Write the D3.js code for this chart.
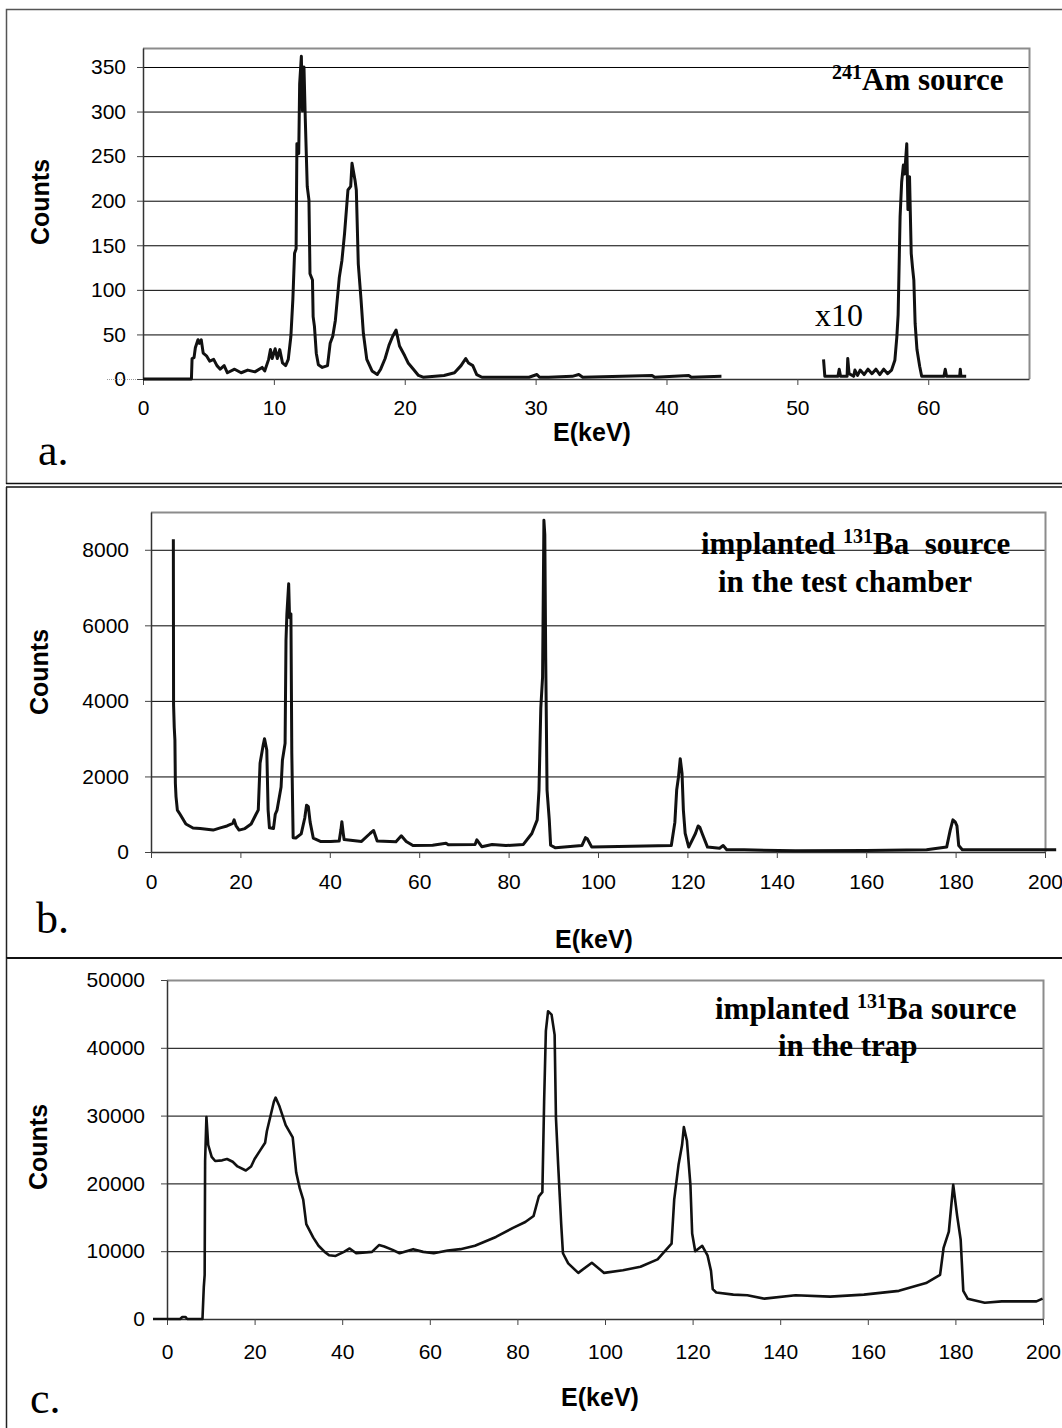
<!DOCTYPE html>
<html>
<head>
<meta charset="utf-8">
<script src="https://cdn.jsdelivr.net/npm/d3@7"></script>
<style>
body { margin: 0; background: #fff; }
svg text { font-family: "Liberation Sans", Arial, sans-serif; fill: #000; }
</style>
</head>
<body>
<svg id="chart" width="1062" height="1428"></svg>
<script>
// a. 241Am spectrum, low energy part (keV, counts)
var amE = [0, 3.7, 3.75, 3.9, 4.0, 4.2, 4.3, 4.45, 4.6, 4.85, 5.1, 5.4, 5.65, 5.9, 6.2, 6.45, 7.0, 7.5, 8.0, 8.55, 9.1, 9.3, 9.6, 9.74, 9.87, 10.1, 10.26, 10.45, 10.66, 10.9, 11.1, 11.3, 11.45, 11.58, 11.7, 11.76, 11.9, 11.97, 12.1, 12.18, 12.3, 12.4, 12.55, 12.68, 12.76, 12.95, 13.0, 13.1, 13.24, 13.4, 13.7, 14.1, 14.3, 14.5, 14.7, 15.0, 15.2, 15.4, 15.66, 15.87, 15.97, 16.2, 16.3, 16.45, 16.66, 16.84, 17.1, 17.5, 17.9, 18.16, 18.5, 18.8, 19.08, 19.34, 19.6, 20.0, 20.26, 20.66, 21.05, 21.4, 23.0, 23.8, 24.3, 24.66, 24.87, 25.2, 25.5, 25.9, 29.5, 30.1, 30.3, 31.0, 32.8, 33.3, 33.6, 38.9, 39.1, 41.7, 41.9, 44.2];
var amCounts = [0, 0, 23, 24, 35, 44, 40, 44, 29, 26, 20, 22, 15, 11, 15, 7, 11, 7, 10, 8, 13, 9, 22, 33, 23, 34, 23, 33, 18, 15, 22, 48, 89, 141, 146, 264, 253, 331, 362, 301, 350, 292, 216, 201, 118, 111, 70, 59, 29, 16, 13, 15, 40, 48, 66, 114, 133, 163, 212, 216, 242, 223, 212, 129, 89, 51, 22, 9, 5, 11, 23, 38, 48, 55, 37, 26, 18, 11, 4, 2, 4, 7, 15, 23, 18, 15, 5, 2, 2, 5, 2, 2, 3, 5, 2, 4, 2, 4, 2, 3];
// a. 241Am spectrum, 52-63 keV part shown x10
var amE10 = [52.0, 52.1, 53.1, 53.2, 53.3, 53.8, 53.85, 53.95, 54.3, 54.4, 54.6, 54.8, 55.1, 55.4, 55.7, 56.0, 56.3, 56.6, 56.9, 57.2, 57.45, 57.6, 57.7, 57.85, 57.97, 58.1, 58.2, 58.36, 58.45, 58.57, 58.7, 58.8, 58.9, 59.0, 59.14, 59.35, 59.5, 61.2, 61.3, 61.4, 62.4, 62.45, 62.5, 62.9];
var amCounts10 = [22, 3, 3, 11, 3, 3, 23, 6, 3, 10, 4, 10, 5, 11, 6, 11, 5, 11, 6, 10, 21, 47, 72, 182, 221, 240, 230, 264, 190, 227, 141, 125, 111, 62, 33, 14, 3, 3, 11, 3, 3, 11, 3, 3];
var amXTicks = [0, 10, 20, 30, 40, 50, 60];
var amYTicks = [0, 50, 100, 150, 200, 250, 300, 350];

// b. implanted 131Ba source in the test chamber
var testE = [5.0, 5.05, 5.2, 5.35, 5.45, 5.6, 5.9, 6.5, 7.8, 9.4, 11, 13.9, 15.5, 17, 18.3, 18.6, 19.0, 19.7, 21, 22.4, 23.5, 24.0, 24.4, 25.1, 25.4, 25.9, 26.2, 26.5, 27.4, 27.8, 28.2, 29.1, 29.4, 30.0, 30.2, 30.4, 30.8, 31.0, 31.3, 31.5, 31.8, 32.4, 33.6, 34.4, 34.8, 35.2, 35.6, 36.3, 37.9, 40.2, 42.1, 42.5, 42.7, 43.0, 43.2, 47.1, 49.0, 49.8, 50.6, 54.8, 56.0, 57.1, 58.6, 63, 66.0, 66.5, 72.5, 72.9, 74.0, 76.3, 79.4, 83.3, 85.2, 86.4, 86.8, 87.2, 87.6, 87.9, 88.1, 88.3, 88.6, 89.1, 89.4, 90.5, 96.4, 97.2, 97.6, 98.6, 116.4, 117.2, 117.6, 118.0, 118.4, 118.8, 119.1, 119.5, 120.3, 121.8, 122.4, 122.8, 123.3, 124.5, 127.2, 128.0, 128.8, 132.7, 144.2, 160, 173.5, 178.0, 178.8, 179.4, 179.9, 180.3, 180.7, 181.5, 202.5];
var testCounts = [8280, 3900, 3300, 2960, 1820, 1460, 1110, 1000, 740, 635, 620, 580, 640, 690, 760, 850, 700, 580, 620, 740, 1000, 1110, 2350, 2830, 3000, 2700, 1110, 640, 620, 1000, 1110, 1720, 2430, 2880, 5600, 6300, 7100, 6200, 6300, 2620, 380, 370, 480, 900, 1240, 1200, 790, 370, 280, 280, 290, 600, 800, 500, 330, 280, 490, 570, 290, 270, 430, 280, 170, 180, 230, 190, 200, 320, 140, 200, 170, 200, 490, 850, 1640, 3800, 4630, 8780, 8400, 5160, 1640, 850, 180, 110, 170, 380, 350, 130, 170, 790, 1640, 1980, 2470, 2080, 1110, 490, 130, 490, 690, 650, 490, 130, 100, 170, 60, 60, 30, 40, 60, 130, 580, 850, 800, 690, 170, 60, 60];
var testXTicks = [0, 20, 40, 60, 80, 100, 120, 140, 160, 180, 200];
var testYTicks = [0, 2000, 4000, 6000, 8000];

// c. implanted 131Ba source in the trap
var trapE = [-3.2, 3.0, 3.5, 4.2, 4.6, 8.1, 8.4, 8.6, 8.7, 9.0, 9.4, 10.2, 11.0, 12.6, 13.7, 15.0, 16.1, 18.0, 19.2, 20.0, 21.2, 22.4, 22.8, 24.4, 24.8, 25.6, 27.1, 28.7, 29.5, 30.3, 31.1, 31.8, 33.4, 34.6, 36.0, 37.0, 38.5, 40.4, 41.7, 43.2, 46.8, 48.4, 49.6, 51.5, 53.1, 56.2, 58.5, 60.9, 64.1, 67.0, 70.3, 75.1, 79.0, 81.8, 83.7, 84.9, 85.7, 86.1, 86.5, 87.0, 87.8, 88.5, 88.8, 89.3, 90.0, 90.4, 91.6, 93.9, 97.0, 99.8, 104.1, 108.1, 112.0, 115.2, 115.8, 116.8, 117.6, 118.0, 118.7, 119.5, 119.9, 120.6, 122.2, 123.4, 124.2, 124.6, 125.4, 129.3, 132.5, 136.4, 143.5, 151.4, 159.1, 167.1, 173.3, 176.5, 177.3, 178.5, 179.5, 180.4, 181.2, 181.8, 182.8, 186.7, 190.6, 198.5, 199.9];
var trapCounts = [0, 0, 300, 300, 0, 0, 4700, 6500, 23300, 29800, 25700, 23900, 23300, 23400, 23600, 23200, 22500, 21900, 22500, 23600, 24800, 26000, 27700, 32050, 32650, 31500, 28600, 26800, 21600, 19300, 17600, 14000, 12000, 10800, 9900, 9400, 9300, 9900, 10400, 9700, 9900, 10900, 10700, 10200, 9700, 10300, 9900, 9700, 10100, 10300, 10800, 12100, 13450, 14300, 15200, 18100, 18700, 32000, 42500, 45400, 44900, 41900, 29700, 22800, 14000, 9700, 8200, 6800, 8300, 6800, 7200, 7700, 8800, 11100, 17600, 22800, 25700, 28300, 26300, 19800, 12600, 10000, 10800, 9400, 7100, 4400, 3900, 3600, 3500, 3000, 3500, 3300, 3600, 4150, 5300, 6500, 10500, 12900, 19800, 15200, 11700, 4150, 3000, 2400, 2600, 2600, 3000];
var trapXTicks = [0, 20, 40, 60, 80, 100, 120, 140, 160, 180, 200];
var trapYTicks = [0, 10000, 20000, 30000, 40000, 50000];

var svg = d3.select("#chart");

// frames round the three panels
function drawFrames() {
  var f = svg.append("g").attr("fill", "none");
  f.append("path").attr("d", "M6.5,484V9.5H1062").attr("stroke", "#555").attr("stroke-width", 1.5);
  f.append("path").attr("d", "M6,483.5H1062M6,487H1062").attr("stroke", "#111").attr("stroke-width", 1.5);
  f.append("path").attr("d", "M6.5,487V958").attr("stroke", "#222").attr("stroke-width", 1.5);
  f.append("path").attr("d", "M6,958H1062").attr("stroke", "#111").attr("stroke-width", 2);
  f.append("path").attr("d", "M6.5,958V1428").attr("stroke", "#222").attr("stroke-width", 1.5);
}

function makePanel(p) {
  var x = d3.scaleLinear().domain([0, p.xMax]).range([p.left, p.right]);
  var y = d3.scaleLinear().domain([0, p.yMax]).range([p.bottom, p.top]);
  var g = svg.append("g");

  // gridlines
  g.append("g")
    .attr("transform", `translate(${p.left},0)`)
    .call(d3.axisLeft(y).tickValues(p.yTicks.filter(d => d > 0)).tickSize(-(p.right - p.left)).tickFormat(""))
    .call(a => a.select(".domain").remove())
    .selectAll("line").attr("stroke", "#000").attr("stroke-width", 1);

  // plot area border (top and right)
  g.append("path")
    .attr("d", `M${p.left},${p.top + 0.5}H${p.right + 0.5}V${p.bottom}`)
    .attr("fill", "none").attr("stroke", "#8c8c8c").attr("stroke-width", 2);

  var yAxis = g.append("g")
    .attr("transform", `translate(${p.left},0)`)
    .call(d3.axisLeft(y).tickValues(p.yTicks).tickSize(6).tickSizeOuter(0).tickPadding(p.yPad).tickFormat(d3.format("d")));
  var xAxis = g.append("g")
    .attr("transform", `translate(0,${p.bottom})`)
    .call(d3.axisBottom(x).tickValues(p.xTicks).tickSize(6).tickSizeOuter(0).tickPadding(p.xPad).tickFormat(d3.format("d")));
  [yAxis, xAxis].forEach(a => {
    a.attr("font-size", null).attr("font-family", null);
    a.selectAll("text").style("font-size", "21px").attr("fill", "#000");
    a.selectAll("line").attr("stroke", "#444");
    a.select(".domain").attr("stroke", "#333").attr("stroke-width", 1.5);
  });

  // spectra
  var line = d3.line().x(d => x(d[0])).y(d => y(d[1]));
  p.series.forEach(s => {
    g.append("path")
      .datum(d3.zip(s.e, s.c))
      .attr("d", line)
      .attr("fill", "none")
      .attr("stroke", "#111")
      .attr("stroke-width", p.lineWidth)
      .attr("stroke-linejoin", "round");
  });

  // axis titles
  g.append("text")
    .attr("transform", `translate(${p.countsX},${p.countsY}) rotate(-90)`)
    .attr("text-anchor", "middle").attr("dy", "0.35em")
    .style("font-size", "25px").style("font-weight", "bold")
    .text("Counts");
  g.append("text")
    .attr("x", p.eX).attr("y", p.eY)
    .attr("text-anchor", "middle")
    .style("font-size", "25px").style("font-weight", "bold")
    .text("E(keV)");
  g.append("text")
    .attr("x", p.tagX).attr("y", p.tagY)
    .style("font-family", "'Liberation Serif', 'Times New Roman', serif")
    .style("font-size", "44px")
    .text(p.tag);
  return g;
}

// title with superscript mass number
function serifTitle(g, xPos, yPos, before, sup, after) {
  var t = g.append("text").attr("x", xPos).attr("y", yPos)
    .style("font-family", "'Liberation Serif', 'Times New Roman', serif")
    .style("font-weight", "bold").style("font-size", "31px")
    .attr("xml:space", "preserve");
  if (before) t.append("tspan").text(before);
  t.append("tspan").attr("dy", -11).style("font-size", "20px").text(sup);
  t.append("tspan").attr("dy", 11).text(after);
}
function serifLine(g, xPos, yPos, str) {
  g.append("text").attr("x", xPos).attr("y", yPos)
    .style("font-family", "'Liberation Serif', 'Times New Roman', serif")
    .style("font-weight", "bold").style("font-size", "31px")
    .attr("xml:space", "preserve")
    .text(str);
}

drawFrames();

var ga = makePanel({
  left: 143, right: 1029, top: 48, bottom: 379, xMax: 67.7, yMax: 371.3,
  xTicks: amXTicks, yTicks: amYTicks, xPad: 15, yPad: 11, lineWidth: 3,
  series: [{e: amE, c: amCounts}, {e: amE10, c: amCounts10}],
  countsX: 40, countsY: 202, eX: 592, eY: 441, tag: "a.", tagX: 38, tagY: 465
});
// faint dotted trace left of the origin
ga.append("line").attr("x1", 107).attr("x2", 137).attr("y1", 379.5).attr("y2", 379.5)
  .attr("stroke", "#999").attr("stroke-dasharray", "1,1");
serifTitle(ga, 832, 90, "", "241", "Am source");
ga.append("text").attr("x", 815).attr("y", 326)
  .style("font-family", "'Liberation Serif', 'Times New Roman', serif")
  .style("font-size", "32px").text("x10");

var gb = makePanel({
  left: 151, right: 1045, top: 512, bottom: 852, xMax: 200, yMax: 9000,
  xTicks: testXTicks, yTicks: testYTicks, xPad: 16, yPad: 16, lineWidth: 3,
  series: [{e: testE, c: testCounts}],
  countsX: 39, countsY: 672, eX: 594, eY: 948, tag: "b.", tagX: 36, tagY: 933
});
serifTitle(gb, 701, 554, "implanted ", "131", "Ba  source");
serifLine(gb, 718, 592, "in the test chamber");

var gc = makePanel({
  left: 167, right: 1043, top: 980, bottom: 1319, xMax: 200, yMax: 50000,
  xTicks: trapXTicks, yTicks: trapYTicks, xPad: 19, yPad: 16, lineWidth: 2.6,
  series: [{e: trapE, c: trapCounts}],
  countsX: 38, countsY: 1147, eX: 600, eY: 1406, tag: "c.", tagX: 30, tagY: 1413
});
serifTitle(gc, 715, 1019, "implanted ", "131", "Ba source");
serifLine(gc, 778, 1056, "in the trap");
</script>
</body>
</html>
